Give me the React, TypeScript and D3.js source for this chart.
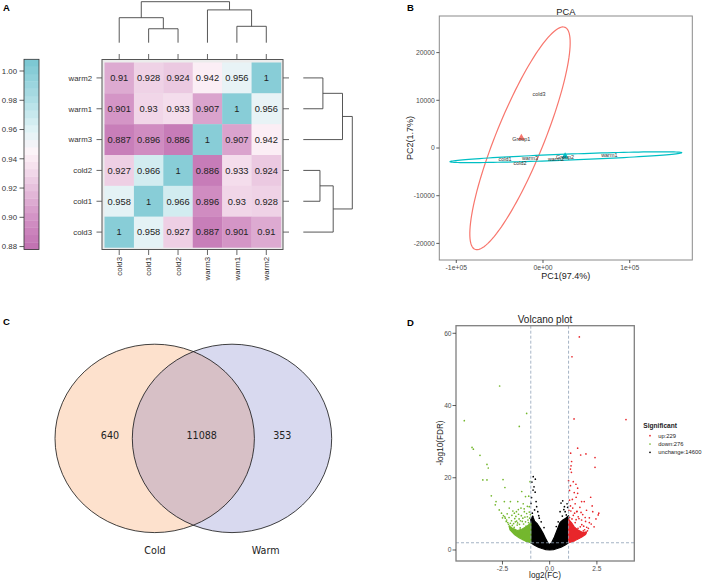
import React from 'react';
import * as d3 from 'd3';

const FONT = 'Liberation Sans, Arial, Helvetica, sans-serif';

// ---------------- Panel A data ----------------
const sampleNames = ['cold3', 'cold1', 'cold2', 'warm3', 'warm1', 'warm2'];
const rowNames = ['warm2', 'warm1', 'warm3', 'cold2', 'cold1', 'cold3'];
const corrCold3 = [1, 0.958, 0.927, 0.887, 0.901, 0.91];
const corrCold1 = [0.958, 1, 0.966, 0.896, 0.93, 0.928];
const corrCold2 = [0.927, 0.966, 1, 0.886, 0.933, 0.924];
const corrWarm3 = [0.887, 0.896, 0.886, 1, 0.907, 0.942];
const corrWarm1 = [0.901, 0.93, 0.933, 0.907, 1, 0.956];
const corrWarm2 = [0.91, 0.928, 0.924, 0.942, 0.956, 1];
const corrRows = [corrCold3, corrCold1, corrCold2, corrWarm3, corrWarm1, corrWarm2];
const colorbarTicks = [0.88, 0.9, 0.92, 0.94, 0.96, 0.98, 1.0];
const colorDomain = [0.878, 0.9, 0.92, 0.935, 0.945, 0.96, 0.98, 1.008];
const colorRange = ['#c06fb0', '#d393c5', '#e7c0dc', '#f6e1ee', '#fdf4f8', '#e0f2f5', '#b0dee5', '#78c6d1'];
// hierarchical merges (negative = earlier merge, 1-based)
const mergeLeft = [1, 4, 0, 3, -3];
const mergeRight = [2, 5, -1, -2, -4];
const mergeHeight = [0.34, 0.4, 0.61, 0.8, 1.0];

// ---------------- Panel B data ----------------
const pcaNames = ['cold1', 'cold2', 'cold3', 'warm1', 'warm2', 'warm3'];
const pcaGroup = [0, 0, 0, 1, 1, 1];
const pc1 = [-43829, -26528, -4614, 76471, 14994, -14994];
const pc2 = [-2306, -3208, 11258, -1530, -2306, -2096];
const groupNames = ['Group1', 'Group2'];
const groupColors = ['#F8766D', '#00BFC4'];
const ellCenterX = [-26528, 26413];
const ellCenterY = [2033, -1929];
const ellAx = [51903, 133564];
const ellAy = [23271, 943];
const ellBx = [25600, 138];
const ellBy = [-1887, -629];
const pcaXTicks = [-100000, 0, 100000];
const pcaXTickLabels = ['-1e+05', '0e+00', '1e+05'];
const pcaYTicks = [-20000, -10000, 0, 10000, 20000];

// ---------------- Panel C data ----------------
const vennSets = ['Cold', 'Warm'];
const vennOnlyCold = 640;
const vennBoth = 11088;
const vennOnlyWarm = 353;

// ---------------- Panel D data ----------------
const volcXTicks = [-2.5, 0, 2.5];
const volcXTickLabels = ['-2.5', '0.0', '2.5'];
const volcYTicks = [0, 20, 40, 60];
const fcCutoff = 1;
const fdrCutoff = 2;
const legendLabels = ['up:229', 'down:276', 'unchange:14600'];
const legendColors = ['#E8262B', '#74B72E', '#000000'];

const downPts: [number, number][] = [
  [-4.52, 35.8], [-2.65, 45.4], [-1.22, 37.8], [-1.61, 34.2],
  [-4.11, 28.4], [-4.04, 27.9], [-3.69, 26.2], [-3.32, 23.7], [-3.25, 22.7],
  [-3.54, 19.4], [-3.32, 19.4], [-2.47, 19.5], [-2.37, 17.3], [-1.48, 16.2], [-1.04, 18.9], [-1.28, 14.8],
  [-3.09, 15.0], [-1.11, 14.9], [-2.84, 13.4], [-2.4, 13.4], [-2.08, 13.4], [-1.69, 13.4],
  [-2.88, 12.5], [-2.67, 11.1], [-2.14, 11.6], [-1.87, 10.2], [-1.34, 10.6], [-2.35, 8.8],
  [-1.52, 11.6], [-1.18, 12.1], [-1.79, 9.3], [-2.02, 8.1], [-1.08, 10.5], [-1.31, 9.1], [-1.62, 8.6],
  [-1.91, 7.3], [-2.22, 7.6], [-1.45, 7.9], [-1.15, 8.3], [-1.72, 6.9], [-1.25, 6.6], [-2.05, 6.3],
  [-1.56, 6.1], [-1.36, 5.6], [-1.86, 5.7], [-1.1, 5.3], [-1.68, 4.9], [-1.46, 4.6], [-1.21, 4.3],
  [-1.6, 4.1], [-1.3, 3.6], [-1.05, 3.3], [-1.4, 3.1], [-1.15, 2.7], [-1.25, 2.5], [-1.52, 3.7],
  [-1.8, 5.1], [-2.12, 6.6], [-2.3, 7.9], [-1.97, 5.9], [-2.45, 9.5], [-2.55, 10.2], [-1.02, 7.2],
  [-1.95, 10.8], [-1.66, 11.2], [-2.25, 10.0], [-1.4, 12.8], [-1.08, 12.0], [-1.75, 8.0], [-2.0, 9.6],
  [-2.28, 8.3], [-2.18, 7.1], [-2.08, 7.4], [-1.98, 6.8], [-1.88, 6.3], [-1.82, 7.8], [-1.7, 7.5],
  [-1.6, 7.1], [-1.55, 8.1], [-1.42, 8.8], [-1.38, 7.2], [-1.28, 7.8], [-1.18, 9.2], [-1.12, 7.6],
  [-1.06, 8.8], [-1.5, 9.5], [-1.65, 9.9], [-1.85, 8.7], [-2.15, 9.0], [-1.22, 10.1], [-1.02, 9.8],
  [-2.38, 9.2], [-2.5, 8.9], [-1.76, 10.6], [-1.35, 11.4],
];

const upPts: [number, number][] = [
  [1.57, 59.0], [1.18, 53.5], [1.29, 36.3], [4.04, 36.1],
  [1.48, 28.2], [1.11, 26.8], [1.64, 26.3], [1.92, 26.6], [2.4, 25.6], [2.4, 22.9],
  [1.16, 24.5], [1.13, 23.3], [1.1, 22.4], [1.15, 21.5],
  [1.25, 18.9], [1.39, 18.2], [1.48, 17.1], [1.3, 15.9], [1.48, 15.7], [1.69, 13.4], [1.83, 13.4], [2.17, 14.6],
  [2.57, 9.7], [2.45, 8.6], [2.1, 7.6], [1.96, 6.3], [1.78, 5.3], [1.57, 4.2], [1.69, 8.3], [1.43, 10.6], [1.51, 9.2],
  [1.05, 16.5], [1.2, 14.0], [1.35, 12.8], [1.6, 11.8], [1.95, 11.0], [1.1, 12.2], [1.45, 10.7], [1.75, 9.8],
  [2.1, 8.9], [1.25, 9.6], [1.55, 8.7], [1.9, 7.9], [2.2, 7.2], [1.05, 9.0], [1.35, 7.6], [1.7, 7.0], [2.35, 6.4],
  [1.15, 6.8], [1.5, 6.0], [1.85, 5.6], [1.28, 5.2], [1.62, 4.8], [2.0, 5.3], [1.08, 4.4], [1.42, 4.0], [1.2, 3.3],
  [1.75, 4.1], [1.02, 2.8], [1.3, 2.6], [1.55, 3.3], [2.6, 10.2], [2.25, 12.2], [1.0, 19.2], [1.05, 13.8],
  [1.12, 10.8], [1.22, 11.6], [1.32, 10.2], [1.4, 8.4], [1.62, 6.4], [1.8, 6.6], [2.05, 6.0], [1.92, 4.8],
  [1.66, 10.4], [1.88, 9.0], [1.02, 11.0], [1.18, 8.6], [2.28, 10.6], [1.4, 14.6], [1.1, 17.8],
];

const unchangePts: [number, number][] = [
  [-0.87, 20.3], [-0.76, 19.6], [-0.94, 18.8], [-0.83, 17.5], [-0.88, 16.6], [-0.77, 16.0], [-0.99, 12.9],
  [-0.72, 13.4], [-0.69, 12.0], [-0.8, 11.1], [-0.63, 10.6], [-0.92, 10.2], [-0.55, 8.8], [-0.96, 14.5],
  [0.69, 13.6], [0.6, 13.0], [0.78, 12.0], [0.55, 10.6], [0.82, 10.6], [0.67, 9.4], [0.88, 9.7], [0.95, 11.8],
  [0.45, 7.8], [0.35, 6.5], [-0.45, 7.8], [-0.3, 6.2], [0.92, 12.8], [0.75, 11.2], [-0.58, 9.5], [-0.9, 9.3],
];

// dense regions (outline of the crowded point clouds)
const unchangeCore: [number, number][] = [
  [-1.0, 8.5], [-0.9, 9.3], [-0.8, 8.0], [-0.65, 7.2], [-0.5, 6.0], [-0.35, 4.6], [-0.2, 3.0], [-0.08, 1.8],
  [0, 1.5], [0.1, 2.0], [0.25, 3.6], [0.4, 5.6], [0.55, 7.6], [0.7, 8.3], [0.85, 8.8], [1.0, 9.5],
  [1.0, 2.0], [0.8, 1.3], [0.6, 0.8], [0.4, 0.4], [0.2, 0.1], [0, 0], [-0.2, 0.1], [-0.4, 0.4],
  [-0.6, 0.8], [-0.8, 1.3], [-1.0, 2.0],
];
const downCore: [number, number][] = [
  [-1.0, 7.5], [-1.2, 6.6], [-1.45, 5.8], [-1.7, 5.4], [-1.95, 5.9], [-2.15, 6.6],
  [-2.1, 5.6], [-1.85, 4.2], [-1.6, 3.3], [-1.4, 2.8], [-1.2, 2.3], [-1.0, 2.0],
];
const upCore: [number, number][] = [
  [1.0, 8.5], [1.15, 7.6], [1.3, 6.4], [1.5, 5.5], [1.75, 4.8], [1.95, 5.0],
  [1.9, 4.3], [1.7, 3.6], [1.45, 2.9], [1.2, 2.3], [1.0, 2.0],
];

// ---------------- helpers ----------------
function dendroSegments(posOf: (leaf: number) => number) {
  const nodePos: number[] = [];
  const nodeH: number[] = [];
  const get = (c: number) => (c >= 0 ? { p: posOf(c), h: 0 } : { p: nodePos[-c - 1], h: nodeH[-c - 1] });
  return mergeLeft.map((l, i) => {
    const a = get(l);
    const b = get(mergeRight[i]);
    const h = mergeHeight[i];
    nodePos[i] = (a.p + b.p) / 2;
    nodeH[i] = h;
    return { p1: a.p, h1: a.h, p2: b.p, h2: b.h, h };
  });
}

function PanelA() {
  const colX = d3.scaleBand<string>().domain(sampleNames).range([104.5, 281]);
  const rowY = d3.scaleBand<string>().domain(rowNames).range([62.5, 247.5]);
  const cw = colX.bandwidth();
  const rh = rowY.bandwidth();
  const color = d3.scaleLinear<string>().domain(colorDomain).range(colorRange).clamp(true);
  const cbY = d3.scaleLinear().domain([0.878, 1.008]).range([249.5, 59.3]);
  const step = 0.005;
  const bands = d3.range(0, Math.round((1.008 - 0.878) / step)).map((i) => 0.878 + i * step);
  const topH = d3.scaleLinear().domain([0, 1]).range([42.7, 1.7]);
  const rightH = d3.scaleLinear().domain([0, 1]).range([303.3, 352.3]);
  const topSegs = dendroSegments((i) => (colX(sampleNames[i]) as number) + cw / 2);
  const rightSegs = dendroSegments((i) => (rowY(sampleNames[i]) as number) + rh / 2);
  return (
    <g>
      <text x={3} y={11} fontSize={9.5} fontWeight="bold" fontFamily={FONT}>A</text>
      {bands.map((b, i) => (
        <rect key={i} x={24} y={cbY(Math.min(b + step, 1.008))} width={15}
          height={cbY(b) - cbY(Math.min(b + step, 1.008)) + 0.3} fill={color(b + step / 2)} />
      ))}
      <rect x={24} y={cbY(1.008)} width={15} height={cbY(0.878) - cbY(1.008)} fill="none" stroke="#333" strokeWidth={0.8} />
      {colorbarTicks.map((t) => (
        <g key={t}>
          <line x1={19.5} x2={24} y1={cbY(t)} y2={cbY(t)} stroke="#333" strokeWidth={0.8} />
          <text x={17} y={cbY(t) + 2.8} fontSize={7.8} textAnchor="end" fill="#333" fontFamily={FONT}>{t.toFixed(2)}</text>
        </g>
      ))}
      <rect x={102} y={59.5} width={181} height={190} fill="#ececec" stroke="#555" strokeWidth={1} />
      {rowNames.map((r) => {
        const ri = sampleNames.indexOf(r);
        return sampleNames.map((c, ci) => {
          const v = corrRows[ri][ci];
          return (
            <g key={r + c}>
              <rect x={colX(c)} y={rowY(r)} width={cw + 0.2} height={rh + 0.2} fill={color(v)} />
              <text x={(colX(c) as number) + cw / 2} y={(rowY(r) as number) + rh / 2 + 3.3} fontSize={9.3}
                textAnchor="middle" fill="#222" fontFamily={FONT}>{String(v)}</text>
            </g>
          );
        });
      })}
      {sampleNames.map((c) => {
        const x = (colX(c) as number) + cw / 2;
        return (
          <g key={'ct' + c}>
            <line x1={x} x2={x} y1={54} y2={59.5} stroke="#555" strokeWidth={0.9} />
            <line x1={x} x2={x} y1={249.5} y2={255} stroke="#555" strokeWidth={0.9} />
            <text transform={`translate(${x + 2.8},257) rotate(-90)`} fontSize={7.8} textAnchor="end" fill="#333" fontFamily={FONT}>{c}</text>
          </g>
        );
      })}
      {rowNames.map((r) => {
        const y = (rowY(r) as number) + rh / 2;
        return (
          <g key={'rt' + r}>
            <line x1={96.5} x2={102} y1={y} y2={y} stroke="#555" strokeWidth={0.9} />
            <line x1={283} x2={289} y1={y} y2={y} stroke="#555" strokeWidth={0.9} />
            <text x={92} y={y + 2.8} fontSize={7.8} textAnchor="end" fill="#333" fontFamily={FONT}>{r}</text>
          </g>
        );
      })}
      {topSegs.map((s, i) => (
        <path key={'td' + i} d={`M${s.p1},${topH(s.h1)}V${topH(s.h)}H${s.p2}V${topH(s.h2)}`} fill="none" stroke="#444" strokeWidth={0.9} />
      ))}
      {rightSegs.map((s, i) => (
        <path key={'rd' + i} d={`M${rightH(s.h1)},${s.p1}H${rightH(s.h)}V${s.p2}H${rightH(s.h2)}`} fill="none" stroke="#444" strokeWidth={0.9} />
      ))}
    </g>
  );
}

function PanelB() {
  const x = d3.scaleLinear().domain([-119600, 172200]).range([439.3, 692.3]);
  const y = d3.scaleLinear().domain([-23480, 27673]).range([260, 16]);
  const ts = d3.range(0, 121).map((i) => (i / 120) * Math.PI * 2);
  const line = d3.line<[number, number]>().x((d) => x(d[0])).y((d) => y(d[1])).curve(d3.curveLinearClosed);
  const centroids = groupNames.map((_, g) => {
    const idx = pcaGroup.map((gg, i) => (gg === g ? i : -1)).filter((i) => i >= 0);
    return [d3.mean(idx, (i) => pc1[i]) as number, d3.mean(idx, (i) => pc2[i]) as number];
  });
  const tri = d3.symbol().type(d3.symbolTriangle).size(22);
  return (
    <g>
      <text x={407} y={11} fontSize={9.5} fontWeight="bold" fontFamily={FONT}>B</text>
      <text x={565.8} y={14.5} fontSize={9.3} textAnchor="middle" fill="#222" fontFamily={FONT}>PCA</text>
      <rect x={439.3} y={16} width={253} height={244} fill="#fff" stroke="#8a8a8a" strokeWidth={1} />
      {pcaYTicks.map((t) => (
        <g key={t}>
          <line x1={436.3} x2={439.3} y1={y(t)} y2={y(t)} stroke="#333" strokeWidth={0.8} />
          <text x={434.8} y={y(t) + 2.3} fontSize={6.8} textAnchor="end" fill="#4d4d4d" fontFamily={FONT}>{t}</text>
        </g>
      ))}
      {pcaXTicks.map((t, i) => (
        <g key={t}>
          <line x1={x(t)} x2={x(t)} y1={260} y2={263} stroke="#333" strokeWidth={0.8} />
          <text x={x(t)} y={269.5} fontSize={6.8} textAnchor="middle" fill="#4d4d4d" fontFamily={FONT}>{pcaXTickLabels[i]}</text>
        </g>
      ))}
      <text x={565.8} y={279} fontSize={9} textAnchor="middle" fill="#222" fontFamily={FONT}>PC1(97.4%)</text>
      <text transform="translate(413,138) rotate(-90)" fontSize={9} textAnchor="middle" fill="#222" fontFamily={FONT}>PC2(1.7%)</text>
      {groupNames.map((g, gi) => {
        const pts = ts.map((t) => [
          ellCenterX[gi] + Math.cos(t) * ellAx[gi] + Math.sin(t) * ellBx[gi],
          ellCenterY[gi] + Math.cos(t) * ellAy[gi] + Math.sin(t) * ellBy[gi],
        ] as [number, number]);
        return <path key={g} d={line(pts) as string} fill="none" stroke={groupColors[gi]} strokeWidth={1.2} />;
      })}
      {centroids.map((c, gi) => (
        <path key={'tri' + gi} d={tri() as string} transform={`translate(${x(c[0])},${y(c[1]) - 1})`} fill={groupColors[gi]} />
      ))}
      {pcaNames.map((n, i) => (
        <text key={n} x={x(pc1[i])} y={y(pc2[i]) + 2} fontSize={5.4} textAnchor="middle" fill="#333" fontFamily={FONT}>{n}</text>
      ))}
      {centroids.map((c, gi) => (
        <text key={'gl' + gi} x={x(c[0])} y={y(c[1]) + 2} fontSize={5.4} textAnchor="middle" fill="#333" fontFamily={FONT}>{groupNames[gi]}</text>
      ))}
    </g>
  );
}

function PanelC() {
  const cy = 438.4;
  const rx = 99.7;
  const ry = 94.2;
  const cxs = [154.7, 232];
  const fills = ['#fde1cd', '#d8d9ef'];
  const VF = 'DejaVu Sans, Verdana, sans-serif';
  return (
    <g>
      <text x={3} y={325} fontSize={9.5} fontWeight="bold" fontFamily={FONT}>C</text>
      <defs>
        <clipPath id="vennClip"><ellipse cx={cxs[0]} cy={cy} rx={rx} ry={ry} /></clipPath>
      </defs>
      {cxs.map((cx, i) => <ellipse key={i} cx={cx} cy={cy} rx={rx} ry={ry} fill={fills[i]} />)}
      <ellipse cx={cxs[1]} cy={cy} rx={rx} ry={ry} fill="#d7c0c6" clipPath="url(#vennClip)" />
      {cxs.map((cx, i) => <ellipse key={'s' + i} cx={cx} cy={cy} rx={rx} ry={ry} fill="none" stroke="#111" strokeWidth={0.8} />)}
      <text x={110} y={439.3} fontSize={9.6} textAnchor="middle" fill="#222" fontFamily={VF}>{vennOnlyCold}</text>
      <text x={201.7} y={439.3} fontSize={9.6} textAnchor="middle" fill="#222" fontFamily={VF}>{vennBoth}</text>
      <text x={282.3} y={439.3} fontSize={9.6} textAnchor="middle" fill="#222" fontFamily={VF}>{vennOnlyWarm}</text>
      <text x={155} y={554} fontSize={9.6} textAnchor="middle" fill="#222" fontFamily={VF}>{vennSets[0]}</text>
      <text x={265.7} y={554} fontSize={9.6} textAnchor="middle" fill="#222" fontFamily={VF}>{vennSets[1]}</text>
    </g>
  );
}

function PanelD() {
  const x = d3.scaleLinear().domain([-4.96, 4.48]).range([456, 634.3]);
  const y = d3.scaleLinear().domain([-3.05, 62.1]).range([561, 325.7]);
  const poly = d3.line<[number, number]>().x((d) => x(d[0])).y((d) => y(d[1])).curve(d3.curveLinearClosed);
  const dash = '#8e9fb6';
  return (
    <g>
      <text x={407} y={326} fontSize={9.5} fontWeight="bold" fontFamily={FONT}>D</text>
      <text x={545} y={323} fontSize={10} textAnchor="middle" fill="#222" fontFamily={FONT}>Volcano plot</text>
      <defs>
        <clipPath id="volcClip"><rect x={456} y={325.7} width={178.3} height={235.3} /></clipPath>
      </defs>
      <rect x={456} y={325.7} width={178.3} height={235.3} fill="#fff" />
      <g clipPath="url(#volcClip)">
        <path d={poly(unchangeCore) as string} fill="#000" stroke="#000" strokeWidth={1.2} strokeLinejoin="round" />
        <path d={poly(downCore) as string} fill={legendColors[1]} stroke={legendColors[1]} strokeWidth={1.2} strokeLinejoin="round" />
        <path d={poly(upCore) as string} fill={legendColors[0]} stroke={legendColors[0]} strokeWidth={1.2} strokeLinejoin="round" />
        {unchangePts.map((p, i) => <circle key={'n' + i} cx={x(p[0])} cy={y(p[1])} r={0.85} fill="#000" />)}
        {downPts.map((p, i) => <circle key={'d' + i} cx={x(p[0])} cy={y(p[1])} r={0.85} fill={legendColors[1]} />)}
        {upPts.map((p, i) => <circle key={'u' + i} cx={x(p[0])} cy={y(p[1])} r={0.85} fill={legendColors[0]} />)}
        <line x1={x(-fcCutoff)} x2={x(-fcCutoff)} y1={325.7} y2={561} stroke={dash} strokeWidth={0.8} strokeDasharray="3,2" />
        <line x1={x(fcCutoff)} x2={x(fcCutoff)} y1={325.7} y2={561} stroke={dash} strokeWidth={0.8} strokeDasharray="3,2" />
        <line x1={456} x2={634.3} y1={y(fdrCutoff)} y2={y(fdrCutoff)} stroke={dash} strokeWidth={0.8} strokeDasharray="3,2" />
      </g>
      <rect x={456} y={325.7} width={178.3} height={235.3} fill="none" stroke="#7f7f7f" strokeWidth={1.3} />
      {volcYTicks.map((t) => (
        <g key={t}>
          <line x1={452.5} x2={456} y1={y(t)} y2={y(t)} stroke="#333" strokeWidth={0.8} />
          <text x={451.5} y={y(t) + 2.3} fontSize={6.6} textAnchor="end" fill="#4d4d4d" fontFamily={FONT}>{t}</text>
        </g>
      ))}
      {volcXTicks.map((t, i) => (
        <g key={t}>
          <line x1={x(t)} x2={x(t)} y1={561} y2={564.5} stroke="#333" strokeWidth={0.8} />
          <text x={x(t)} y={570.5} fontSize={6.6} textAnchor="middle" fill="#4d4d4d" fontFamily={FONT}>{volcXTickLabels[i]}</text>
        </g>
      ))}
      <text x={545} y={578} fontSize={8.2} textAnchor="middle" fill="#222" fontFamily={FONT}>log2(FC)</text>
      <text transform="translate(443,443) rotate(-90)" fontSize={8.2} textAnchor="middle" fill="#222" fontFamily={FONT}>-log10(FDR)</text>
      <text x={643.3} y={427.8} fontSize={6.6} fontWeight="bold" fill="#222" fontFamily={FONT}>Significant</text>
      {legendLabels.map((l, i) => (
        <g key={l}>
          <circle cx={650} cy={435.7 + i * 8.3} r={0.85} fill={legendColors[i]} />
          <text x={658.3} y={437.8 + i * 8.3} fontSize={5.8} fill="#222" fontFamily={FONT}>{l}</text>
        </g>
      ))}
    </g>
  );
}

export default function App() {
  return (
    <svg width={708} height={581} viewBox="0 0 708 581"
      style={{ position: 'absolute', left: 0, top: 0, background: '#fff' }}>
      <rect x={0} y={0} width={708} height={581} fill="#fff" />
      <PanelA />
      <PanelB />
      <PanelC />
      <PanelD />
    </svg>
  );
}
